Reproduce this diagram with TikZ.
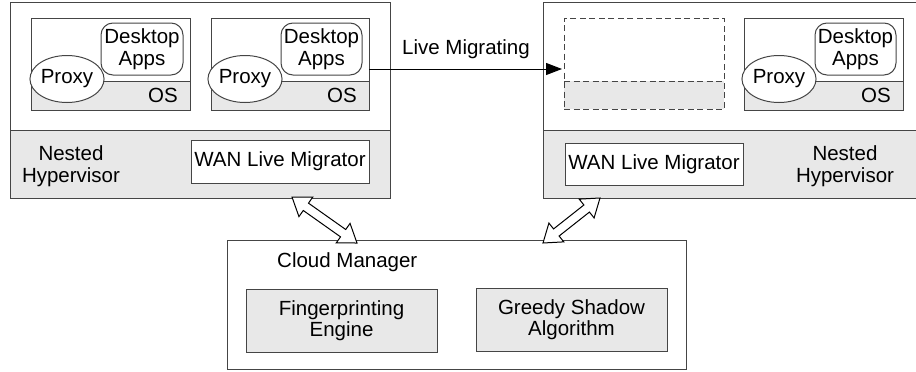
\documentclass[tikz,border=0pt]{standalone}
\usepackage{fontspec}
\setmainfont{Liberation Sans}
\usetikzlibrary{fit,calc,arrows.meta,shapes.geometric}
\definecolor{ln}{HTML}{454545}
\definecolor{gf}{HTML}{E8E8E8}
\begin{document}
\begin{tikzpicture}[x=1pt,y=-1pt,
  every node/.style={font=\fontsize{20.5}{21.5}\selectfont, text=black},
  frame/.style={draw=ln, line width=1pt, inner sep=0pt, outer sep=0pt},
  ghostbox/.style={frame, dashed, dash pattern=on 6pt off 3.5pt},
  apps/.style={frame, fill=white, rounded corners=12pt},
  proxy/.style={ellipse, draw=ln, line width=1pt, fill=white, minimum width=54pt, minimum height=47pt, inner sep=0pt},
  lbl/.style={inner sep=0pt, align=center},
  sep/.style={draw=ln, line width=1pt},
  migr/.style={draw=black, line width=1pt, -{Triangle[length=16pt,width=12pt]}, shorten >=2pt},
  fat/.style={draw=black, line width=1pt, fill=white, line join=miter}
]
\useasboundingbox (0,0) rectangle (916,372);

% ---------- left host ----------
\fill[gf] (10,130) rectangle (390,198);
\node[frame, fit={(10,2)(390,198)}] (hostL) {};
\draw[sep] (10,130) -- (390,130);

\fill[gf] (31,81) rectangle (190,110);
\node[frame, fit={(31,18)(190,110)}] (vm1) {};
\draw[sep] (31,81) -- (190,81);
\node[proxy] (px1) at (67,79) {Proxy};
\node[apps, fit={(101,23)(183,75)}] (ap1) {};
\node[lbl] (ap1t) at (ap1.center) {Desktop\\Apps};
\node[lbl, anchor=east] (os1) at (178,95) {OS};

\fill[gf] (211,81) rectangle (369,110);
\node[frame, fit={(211,18)(369,110)}] (vm2) {};
\draw[sep] (211,81) -- (369,81);
\node[proxy] (px2) at (245,79) {Proxy};
\node[apps, fit={(281,23)(362,75)}] (ap2) {};
\node[lbl] (ap2t) at (ap2.center) {Desktop\\Apps};
\node[lbl, anchor=east] (os2) at (357,95) {OS};

\node[frame, fill=white, fit={(191,140)(369,183)}] (wanL) {};
\node[lbl] (wanLt) at (wanL.center) {WAN Live Migrator};
\node[lbl] (nhL) at (71,166) {Nested\\Hypervisor};

% ---------- right host ----------
\fill[gf] (543,130) rectangle (917,198);
\node[frame, fit={(543,2)(917,198)}] (hostR) {};
\draw[sep] (543,130) -- (917,130);

\fill[gf] (564,81) rectangle (724,109);
\node[ghostbox, fit={(564,18)(724,109)}] (ghost) {};
\draw[sep, dashed, dash pattern=on 6pt off 3.5pt] (564,81) -- (724,81);

\fill[gf] (744,81) rectangle (903,110);
\node[frame, fit={(744,18)(903,110)}] (vm3) {};
\draw[sep] (744,81) -- (903,81);
\node[proxy] (px3) at (779,79) {Proxy};
\node[apps, fit={(815,23)(896,75)}] (ap3) {};
\node[lbl] (ap3t) at (ap3.center) {Desktop\\Apps};
\node[lbl, anchor=east] (os3) at (891,95) {OS};

\node[frame, fill=white, fit={(565,143)(743,185)}] (wanR) {};
\node[lbl] (wanRt) at (wanR.center) {WAN Live Migrator};
\node[lbl] (nhR) at (845,166) {Nested\\Hypervisor};

% ---------- cloud manager ----------
\node[frame, fit={(227,240)(686,369)}] (cloud) {};
\node[lbl, anchor=west] (cmlbl) at (277,262) {Cloud Manager};
\node[frame, fill=gf, fit={(246,289)(437,352)}] (fp) {};
\node[lbl] (fpt) at (fp.center) {Fingerprinting\\Engine};
\node[frame, fill=gf, fit={(476,288)(667,351)}] (gs) {};
\node[lbl] (gst) at (gs.center) {Greedy Shadow\\Algorithm};

% ---------- live migration ----------
\coordinate (migy) at (466,69);
\draw[migr] (vm2.east |- migy) -- (ghost.west |- migy);
\node[lbl] (miglbl) at (466,49) {Live Migrating};

% ---------- double arrows ----------
\coordinate (a1) at (292,197);
\coordinate (a2) at (357,243);
\coordinate (b1) at (600,198);
\coordinate (b2) at (543,243);
\foreach \s/\e in {a1/a2, b1/b2}{
  \coordinate (P) at ($(\s)!17pt!(\e)$);
  \coordinate (Q) at ($(\e)!17pt!(\s)$);
  \draw[fat] (\s)
    -- ($(P)!12pt!90:(\e)$) -- ($(P)!4.5pt!90:(\e)$)
    -- ($(Q)!4.5pt!-90:(\s)$) -- ($(Q)!12pt!-90:(\s)$)
    -- (\e)
    -- ($(Q)!12pt!90:(\s)$) -- ($(Q)!4.5pt!90:(\s)$)
    -- ($(P)!4.5pt!-90:(\e)$) -- ($(P)!12pt!-90:(\e)$)
    -- cycle;
}
\end{tikzpicture}
\end{document}
